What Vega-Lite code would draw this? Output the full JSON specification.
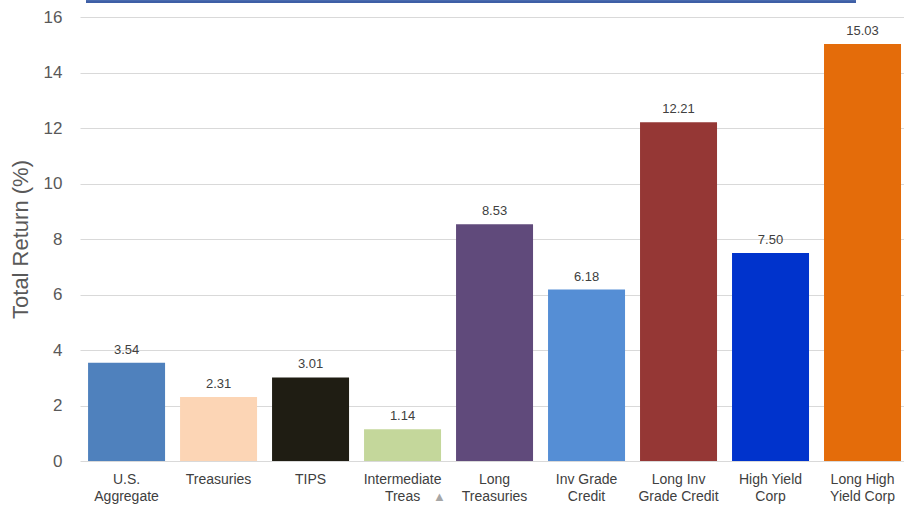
{
  "$schema": "https://vega.github.io/schema/vega-lite/v6.json",
  "width": 824,
  "height": 444,
  "autosize": {"type": "none"},
  "padding": {"left": 80, "top": 17, "right": 0, "bottom": 44},
  "background": "white",
  "config": {
    "view": {"stroke": null},
    "font": "Liberation Sans"
  },
  "data": {
    "values": [
      {"sector": "U.S.|Aggregate", "ret": 3.54, "color": "#4f81bd"},
      {"sector": "Treasuries", "ret": 2.31, "color": "#fcd5b5"},
      {"sector": "TIPS", "ret": 3.01, "color": "#1f1d13"},
      {"sector": "Intermediate|Treas", "ret": 1.14, "color": "#c4d79b"},
      {"sector": "Long|Treasuries", "ret": 8.53, "color": "#604a7b"},
      {"sector": "Inv Grade|Credit", "ret": 6.18, "color": "#558ed5"},
      {"sector": "Long Inv|Grade Credit", "ret": 12.21, "color": "#953735"},
      {"sector": "High Yield|Corp", "ret": 7.5, "color": "#0033cc"},
      {"sector": "Long High|Yield Corp", "ret": 15.03, "color": "#e46c0a"}
    ]
  },
  "encoding": {
    "x": {
      "field": "sector",
      "type": "nominal",
      "sort": null,
      "scale": {"paddingInner": 0.163, "paddingOuter": 0.06, "align": 0.73},
      "axis": {
        "title": null,
        "labelAngle": 0,
        "labelExpr": "split(datum.label, '|')",
        "labelFontSize": 14,
        "labelColor": "#404040",
        "labelLineHeight": 17,
        "labelPadding": 11,
        "ticks": false,
        "domain": false
      }
    }
  },
  "layer": [
    {
      "mark": {"type": "bar"},
      "encoding": {
        "y": {
          "field": "ret",
          "type": "quantitative",
          "scale": {"domain": [0, 16], "nice": false},
          "axis": {
            "title": "Total Return (%)",
            "titleFontSize": 22,
            "titleFontWeight": "normal",
            "titleColor": "#595959",
            "titlePadding": 11,
            "values": [0, 2, 4, 6, 8, 10, 12, 14, 16],
            "labelFontSize": 17,
            "labelColor": "#595959",
            "labelPadding": 18,
            "ticks": false,
            "domain": false,
            "grid": true,
            "gridColor": "#d9d9d9",
            "gridWidth": 1
          }
        },
        "color": {"field": "color", "type": "nominal", "scale": null}
      }
    },
    {
      "mark": {"type": "text", "baseline": "bottom", "dy": -6, "fontSize": 13, "color": "#404040"},
      "encoding": {
        "y": {"field": "ret", "type": "quantitative"},
        "text": {"field": "ret", "type": "quantitative", "format": ".2f"}
      }
    },
    {
      "data": {"values": [{"sector": "Intermediate|Treas", "mark": "▲"}]},
      "mark": {"type": "text", "baseline": "bottom", "dx": 37, "fontSize": 13, "color": "#a6a6a6"},
      "encoding": {
        "x": {"field": "sector", "type": "nominal"},
        "y": {"datum": -1.55},
        "text": {"field": "mark"}
      }
    },
    {
      "mark": {"type": "rule", "color": "#3f5fa6", "strokeWidth": 2},
      "encoding": {
        "y": {"datum": 16.55},
        "x": {"value": 6},
        "x2": {"value": 776}
      }
    }
  ]
}
